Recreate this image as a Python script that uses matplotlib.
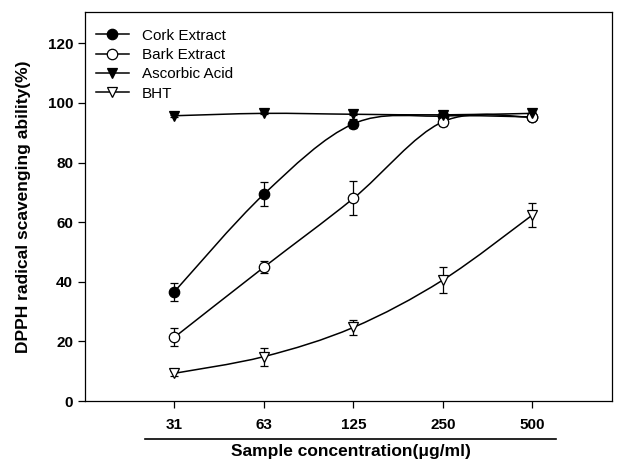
import matplotlib
matplotlib.use("Agg")
import matplotlib.pyplot as plt
import numpy as np
from matplotlib.path import Path
from matplotlib.patches import PathPatch
from matplotlib.lines import Line2D

plt.rcParams['font.family'] = ['Liberation Sans', 'DejaVu Sans']

concentrations = ["31", "63", "125", "250", "500"]
cork = [36.7, 69.4, 93.0, 95.6, 95.3]
cork_err = [3.0, 4.0, 1.5, 1.0, 0.8]
bark = [21.4, 44.9, 68.0, 93.7, 95.2]
bark_err = [3.0, 2.0, 5.7, 1.5, 1.0]
ascorbic = [95.7, 96.5, 96.2, 96.0, 96.5]
ascorbic_err = [0.3, 0.3, 0.3, 0.3, 0.3]
bht = [9.3, 14.9, 24.7, 40.6, 62.4]
bht_err = [0.8, 3.0, 2.5, 4.2, 4.0]

fig = plt.figure(figsize=(6.37, 4.62), dpi=100)
ax = fig.add_axes([0.1334, 0.132, 0.8274, 0.842])

xs = np.arange(len(concentrations))


def smooth_path(x, y):
    x = np.asarray(x, float)
    y = np.asarray(y, float)
    P = np.column_stack([x, y])
    verts = [P[0]]
    codes = [Path.MOVETO]
    n = len(P)
    for i in range(n - 1):
        p0 = P[i - 1] if i > 0 else P[i]
        p1 = P[i]
        p2 = P[i + 1]
        p3 = P[i + 2] if i + 2 < n else P[i + 1]
        c1 = p1 + (p2 - p0) / 6.0
        c2 = p2 - (p3 - p1) / 6.0
        verts += [c1, c2, p2]
        codes += [Path.CURVE4] * 3
    return Path(verts, codes)


series = [
    ("Cork Extract", cork, cork_err, 'o', 'black'),
    ("Bark Extract", bark, bark_err, 'o', 'white'),
    ("Ascorbic Acid", ascorbic, ascorbic_err, 'v', 'black'),
    ("BHT", bht, bht_err, 'v', 'white'),
]

handles = []
for name, vals, errs, mk, fc in series:
    patch = PathPatch(smooth_path(xs, vals), facecolor='none', edgecolor='black', lw=1.1, zorder=2)
    ax.add_patch(patch)
    ax.errorbar(xs, vals, yerr=errs, fmt='none', ecolor='black', elinewidth=0.9,
                capsize=3, capthick=0.9, zorder=3)
    ax.plot(xs, vals, linestyle='none', marker=mk, markersize=7.5,
            markerfacecolor=fc, markeredgecolor='black', markeredgewidth=0.9, zorder=4)
    handles.append(Line2D([], [], color='black', lw=1.1, marker=mk, markersize=7.5,
                          markerfacecolor=fc, markeredgecolor='black', markeredgewidth=0.9))

ax.set_xlim(-1, 4.89)
ax.set_ylim(0, 130.5)
ax.set_yticks([0, 20, 40, 60, 80, 100, 120])
ax.set_xticks(xs)
ax.set_xticklabels(concentrations)
ax.tick_params(axis='both', direction='out', length=5, width=0.9, labelsize=11)
ax.tick_params(axis='x', pad=7)
for lab in ax.get_xticklabels() + ax.get_yticklabels():
    lab.set_fontweight('bold')
for sp in ax.spines.values():
    sp.set_linewidth(0.9)

ax.set_ylabel("DPPH radical scavenging ability(%)", fontsize=12.5, fontweight='bold', labelpad=12)
fig.text(0.5514, 0.022, "Sample concentration(\u03bcg/ml)", fontsize=12.5, fontweight='bold',
         ha='center', va='center')

ax.add_line(Line2D([0.114, 0.894], [-0.098, -0.098], transform=ax.transAxes,
                   color='black', lw=1.2, clip_on=False))

leg = ax.legend(handles, [s[0] for s in series], loc='upper left', frameon=False,
                fontsize=11, handlelength=2.2, handletextpad=0.8, labelspacing=0.35,
                borderaxespad=0.3, bbox_to_anchor=(0.0, 0.985))

fig.savefig("out.png", dpi=100)
